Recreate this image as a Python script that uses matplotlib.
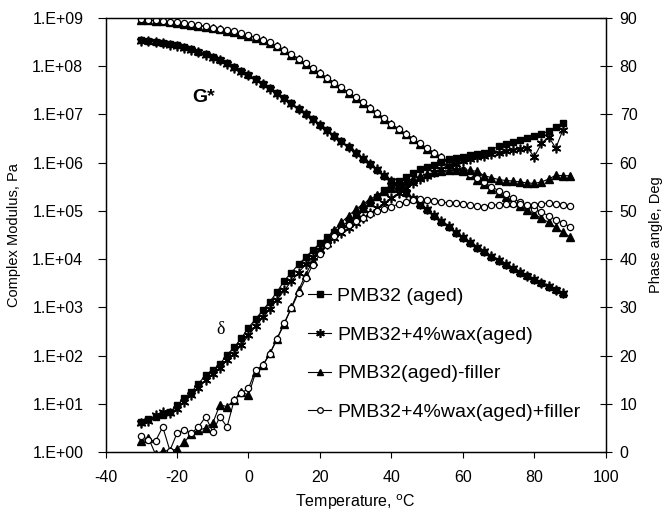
import matplotlib.pyplot as plt
import matplotlib.ticker as ticker
import numpy as np

plt.rcParams['font.family'] = ['Liberation Sans', 'DejaVu Sans']
plt.rcParams['axes.unicode_minus'] = False

# temperature grid, degC
temp_nf = np.arange(-30, 89, 2)   # non-filler series, -30..88
temp_f = np.arange(-30, 91, 2)    # filler series, -30..90

labels = ['PMB32 (aged)', 'PMB32+4%wax(aged)', 'PMB32(aged)-filler',
          'PMB32+4%wax(aged)+filler']

# complex modulus, log10(Pa)
g_pmb = [8.54, 8.53, 8.51, 8.49, 8.46, 8.43, 8.39, 8.35, 8.30, 8.25,
         8.19, 8.13, 8.06, 7.98, 7.90, 7.82, 7.73, 7.64, 7.54, 7.44,
         7.34, 7.23, 7.12, 7.01, 6.90, 6.78, 6.67, 6.55, 6.44, 6.32,
         6.20, 6.08, 5.97, 5.85, 5.73, 5.61, 5.49, 5.37, 5.25, 5.13,
         5.01, 4.89, 4.77, 4.66, 4.55, 4.44, 4.34, 4.24, 4.14, 4.05,
         3.96, 3.88, 3.80, 3.72, 3.65, 3.57, 3.50, 3.43, 3.35, 3.27]
g_wax = [8.53, 8.52, 8.50, 8.48, 8.45, 8.42, 8.38, 8.34, 8.29, 8.24,
         8.18, 8.12, 8.05, 7.97, 7.89, 7.81, 7.72, 7.63, 7.53, 7.43,
         7.33, 7.22, 7.11, 7.00, 6.89, 6.78, 6.66, 6.55, 6.43, 6.32,
         6.20, 6.09, 5.97, 5.86, 5.74, 5.62, 5.50, 5.38, 5.27, 5.15,
         5.03, 4.91, 4.80, 4.68, 4.57, 4.46, 4.36, 4.26, 4.16, 4.07,
         3.98, 3.90, 3.82, 3.74, 3.66, 3.59, 3.51, 3.44, 3.36, 3.29]
g_fil = [8.96, 8.95, 8.94, 8.93, 8.92, 8.90, 8.88, 8.86, 8.84, 8.82,
         8.79, 8.77, 8.74, 8.71, 8.67, 8.63, 8.59, 8.54, 8.48, 8.41,
         8.33, 8.24, 8.15, 8.05, 7.95, 7.85, 7.75, 7.65, 7.55, 7.45,
         7.35, 7.24, 7.13, 7.02, 6.91, 6.80, 6.69, 6.59, 6.49, 6.39,
         6.29, 6.20, 6.11, 6.02, 5.93, 5.83, 5.74, 5.65, 5.55, 5.46,
         5.37, 5.28, 5.19, 5.10, 5.01, 4.93, 4.85, 4.76, 4.66, 4.56,
         4.46]
g_waxfil = [8.97, 8.96, 8.95, 8.94, 8.92, 8.91, 8.89, 8.87, 8.85, 8.83,
            8.80, 8.78, 8.75, 8.72, 8.68, 8.64, 8.60, 8.55, 8.50, 8.42,
            8.34, 8.25, 8.16, 8.06, 7.96, 7.86, 7.76, 7.66, 7.56, 7.46,
            7.36, 7.25, 7.14, 7.03, 6.92, 6.81, 6.70, 6.60, 6.50, 6.40,
            6.30, 6.21, 6.12, 6.03, 5.94, 5.85, 5.76, 5.68, 5.59, 5.50,
            5.42, 5.34, 5.26, 5.18, 5.11, 5.04, 4.97, 4.90, 4.82, 4.75,
            4.67]

# phase angle, deg
d_pmb = [6.3, 6.8, 7.3, 7.7, 8.2, 9.7, 11.2, 12.4, 14.2, 15.9,
         17.0, 18.2, 20.2, 21.7, 23.6, 25.8, 27.6, 29.4, 31.2, 33.2,
         35.5, 37.2, 38.9, 40.4, 41.9, 43.3, 44.5, 45.6, 46.7, 47.9,
         49.1, 50.4, 51.6, 52.9, 54.4, 55.4, 56.2, 57.0, 57.9, 58.6,
         59.1, 59.6, 60.1, 60.7, 61.0, 61.2, 61.5, 61.8, 62.1, 62.7,
         63.4, 63.8, 64.3, 64.8, 65.1, 65.5, 65.9, 66.6, 67.4, 68.3]
d_wax = [6.0, 6.5, 7.6, 8.3, 8.0, 9.0, 10.3, 11.8, 13.2, 14.9,
         16.2, 17.4, 19.0, 20.4, 22.2, 24.2, 26.1, 27.9, 29.7, 31.6,
         33.5, 35.4, 37.2, 38.9, 40.4, 41.8, 43.1, 44.3, 45.4, 46.5,
         47.5, 48.5, 49.5, 50.5, 51.6, 52.7, 53.7, 54.8, 55.8, 56.6,
         57.3, 58.0, 58.7, 59.3, 59.8, 60.3, 60.7, 61.1, 61.4, 61.7,
         62.1, 62.4, 62.6, 62.9, 63.1, 61.2, 64.0, 65.4, 63.0, 66.8]
d_fil = [2.2, 2.9, -0.5, 0.2, 0.3, 0.6, 2.0, 3.8, 4.5, 5.0,
         6.0, 9.8, 9.4, 10.8, 12.5, 11.8, 16.5, 18.0, 20.5, 23.5,
         26.5, 30.0, 33.5, 36.8, 39.6, 42.0, 44.2, 46.0, 47.6, 49.0,
         50.3, 51.4, 52.4, 53.3, 54.1, 54.8, 55.5, 56.1, 56.7, 57.2,
         57.6, 58.0, 58.2, 58.4, 58.5, 58.5, 58.4, 58.2, 57.3, 56.9,
         56.5, 56.3, 56.2, 56.0, 55.8, 55.7, 56.0, 56.6, 57.4, 57.3,
         57.3]
d_waxfil = [3.4, 2.5, 2.3, 5.2, 0.3, 3.9, 4.6, 3.9, 5.2, 7.3,
            4.2, 7.3, 5.2, 10.8, 12.2, 13.2, 17.0, 18.0, 20.3, 23.5,
            26.8, 29.8, 33.0, 36.0, 38.8, 41.0, 43.0, 44.8, 46.0, 47.0,
            47.8, 48.6, 49.3, 49.9, 50.4, 50.9, 51.4, 51.9, 52.2, 52.4,
            52.3, 52.1, 51.9, 51.6, 51.7, 51.5, 51.2, 51.0, 50.9, 51.2,
            51.3, 51.4, 51.5, 51.4, 51.2, 51.3, 51.5, 51.6, 51.5, 51.3,
            51.0]

styles = [dict(marker='s', ms=5, mfc='black'),
          dict(marker=(6, 2, 0), ms=7, mew=1.2),
          dict(marker='^', ms=5.5, mfc='black'),
          dict(marker='o', ms=4.5, mfc='white', mew=0.9)]

fig = plt.figure(figsize=(6.64, 5.17), dpi=100)
ax = fig.add_axes([0.159, 0.1257, 0.7533, 0.8395])
ax2 = ax.twinx()

series = [(temp_nf, g_pmb, d_pmb), (temp_nf, g_wax, d_wax),
          (temp_f, g_fil, d_fil), (temp_f, g_waxfil, d_waxfil)]

handles = []
for (t, g, d), st, lab in zip(series, styles, labels):
    ax.plot(t, 10 ** np.array(g), color='black', lw=0.8, mec='black', **st)
    h, = ax2.plot(t, d, color='black', lw=0.8, mec='black', label=lab, **st)
    handles.append(h)

ax.set_yscale('log')
ax.set_ylim(1, 1e9)
ax.set_xlim(-40, 100)
ax.set_xticks(np.arange(-40, 101, 20))
ax.yaxis.set_major_locator(ticker.LogLocator(base=10, numticks=12))
ax.yaxis.set_minor_locator(ticker.NullLocator())
ax.yaxis.set_major_formatter(ticker.FuncFormatter(
    lambda v, p: '1.E+%02d' % int(round(np.log10(v)))))
ax2.set_ylim(0, 90)
ax2.set_yticks(np.arange(0, 91, 10))

ax.tick_params(axis='y', direction='out', length=6, width=0.8, labelsize=11.5, pad=10)
ax.tick_params(axis='x', direction='out', length=4, width=0.8, labelsize=11.5, pad=9)
ax2.tick_params(axis='y', direction='inout', length=8, width=0.8, labelsize=11.5, pad=6)
for a in (ax, ax2):
    for s in a.spines.values():
        s.set_linewidth(0.9)

ax.set_xlabel('Temperature, $^{\\mathrm{o}}$C', fontsize=11.5, labelpad=5)
ax.set_ylabel('Complex Modulus, Pa', fontsize=10.5, labelpad=8)
ax2.set_ylabel('Phase angle, Deg', fontsize=10.5, labelpad=8)

ax.text(-15.8, 1.8e7, 'G*', fontsize=14, fontweight='bold')
ax.text(-9, 2.8e2, 'δ', fontsize=13, family=['Liberation Serif', 'DejaVu Serif'])

ax2.legend(handles=handles, loc='upper left', bbox_to_anchor=(0.405, 0.379),
           frameon=False, fontsize=14, handlelength=1.2, handletextpad=0.3,
           labelspacing=1.08, borderpad=0, borderaxespad=0, markerscale=0.9)

plt.savefig('out.png', dpi=100)
